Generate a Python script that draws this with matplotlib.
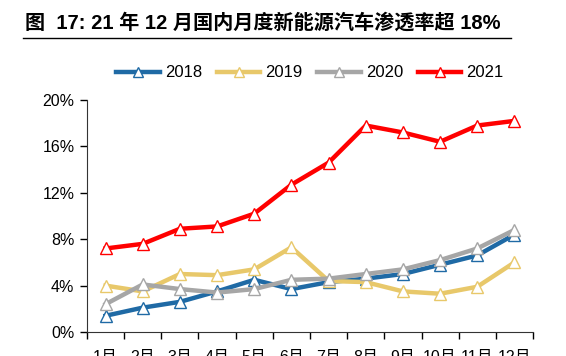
import matplotlib
matplotlib.use("Agg")
import matplotlib.pyplot as plt
from matplotlib.ticker import FixedLocator, FuncFormatter
import numpy as np

plt.rcParams['font.family'] = ['Liberation Sans', 'Noto Sans CJK SC', 'DejaVu Sans']

months = ["1月", "2月", "3月", "4月", "5月", "6月", "7月", "8月", "9月", "10月", "11月", "12月"]
y2018 = [1.4, 2.1, 2.6, 3.5, 4.5, 3.7, 4.3, 4.6, 5.0, 5.8, 6.6, 8.4]
y2019 = [4.0, 3.5, 5.0, 4.9, 5.4, 7.3, 4.4, 4.3, 3.5, 3.3, 3.9, 6.0]
y2020 = [2.4, 4.1, 3.7, 3.4, 3.7, 4.5, 4.6, 5.0, 5.4, 6.2, 7.2, 8.8]
y2021 = [7.2, 7.6, 8.9, 9.1, 10.2, 12.7, 14.6, 17.8, 17.2, 16.4, 17.8, 18.2]

series = [("2018", y2018, "#1f6aa5"),
          ("2019", y2019, "#e8c86a"),
          ("2020", y2020, "#a6a6a6"),
          ("2021", y2021, "#ff0000")]

fig = plt.figure(figsize=(5.66, 3.56), dpi=100)
ax = fig.add_axes([0.1537, 0.0674, 0.788, 0.6517])

x = np.arange(len(months))
for name, vals, col in series:
    ax.plot(x, vals, color=col, lw=3.2, marker="^", ms=9, mfc="white", mec=col,
            mew=1.0, label=name, solid_joinstyle="round")

ax.set_xlim(-0.5, len(months) - 0.5)
ax.set_ylim(0, 20)
ax.set_yticks([0, 4, 8, 12, 16, 20])
ax.yaxis.set_major_formatter(FuncFormatter(lambda v, p: f"{v:.0f}%"))
ax.xaxis.set_major_locator(FixedLocator(np.arange(-0.5, len(months) + 0.5, 1)))
ax.xaxis.set_major_formatter(FuncFormatter(lambda v, p: ""))
ax.set_xticks(x, minor=True)
ax.set_xticklabels(months, minor=True)
ax.tick_params(axis="x", which="minor", length=0, pad=13, labelsize=11.5)
ax.tick_params(axis="x", which="major", length=5, width=1)
ax.tick_params(axis="y", length=5, width=1, labelsize=11.5, pad=4)
for s in ("top", "right"):
    ax.spines[s].set_visible(False)
for s in ("left", "bottom"):
    ax.spines[s].set_color("#333333")

ax.legend(loc="lower center", bbox_to_anchor=(0.5, 1.02), ncol=4, frameon=False,
          fontsize=12, handlelength=2.6, columnspacing=0.9, handletextpad=0.3,
          markerscale=0.75)

fig.text(0.044, 0.92, "图  17: 21 年 12 月国内月度新能源汽车渗透率超 18%", fontsize=14.5,
         fontweight="bold", family=['Liberation Sans', 'Noto Sans CJK SC'], ha="left", va="baseline")
fig.add_artist(plt.Line2D([0.04, 0.903], [0.893, 0.893], color="black", lw=1.0))

fig.savefig("out.png", dpi=100)
